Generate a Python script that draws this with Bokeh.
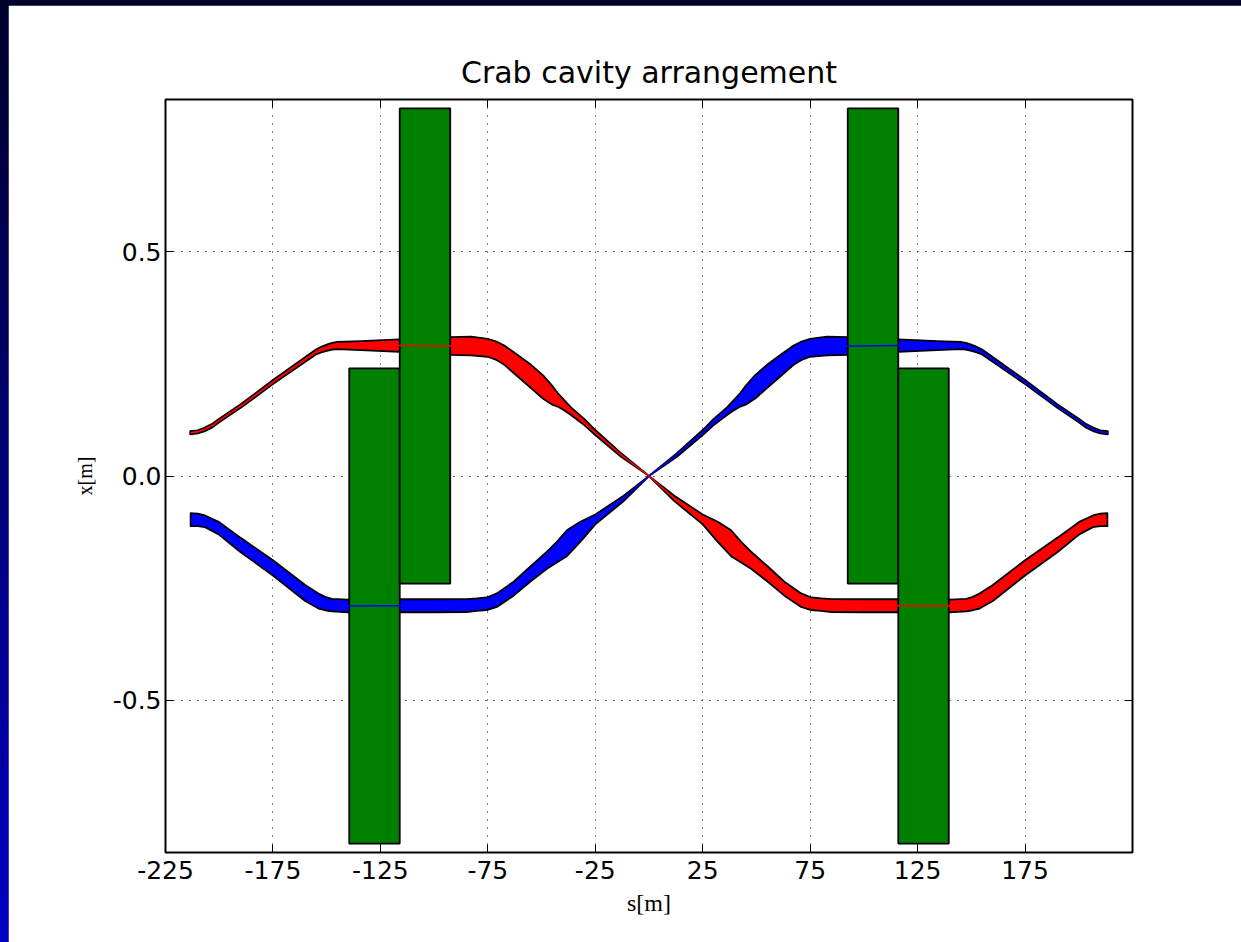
import numpy as np
from bokeh.plotting import figure
from bokeh.models import Range1d, FixedTicker, LinearAxis
from bokeh.embed import file_html
from bokeh.resources import INLINE

# ---- beam 1 (red): longitudinal position, closed orbit, beam half-size ----
s_red = [-213.5, -210, -207, -203, -200, -190, -175, -165, -155, -152.5,
         -150, -147.5, -145, -134, -116, -100, -92.5, -82.8, -75, -71,
         -67.3, -61.1, -54.9, -49.4, -45, -42.5, -39, -36.3, -30, -25,
         -13, 0, 11.8, 25, 32, 38.2, 42.9, 47.5, 55.3, 63,
         70.8, 75.5, 80.1, 85, 100, 116, 140, 147.6, 150.7, 153.8,
         160, 175, 190, 200, 206.6, 210, 213.3]
orbit_red = [0.0965, 0.0985, 0.1035, 0.113, 0.124, 0.156, 0.2095, 0.243, 0.2765, 0.282,
             0.286, 0.2893, 0.291, 0.291, 0.291, 0.290, 0.290, 0.290, 0.286, 0.2795,
             0.2695, 0.246, 0.222, 0.199, 0.180, 0.170, 0.156, 0.1445, 0.120, 0.097,
             0.047, 0.0, -0.050, -0.097, -0.1245, -0.150, -0.170, -0.188, -0.219, -0.2515,
             -0.277, -0.285, -0.287, -0.289, -0.2895, -0.2895, -0.290, -0.288, -0.2845, -0.279,
             -0.261, -0.205, -0.154, -0.117, -0.101, -0.098, -0.0975]
half_red = [0.0035, 0.0035, 0.004, 0.004, 0.004, 0.004, 0.0045, 0.005, 0.0055, 0.0062,
            0.007, 0.0075, 0.008, 0.010, 0.014, 0.018, 0.0198, 0.021, 0.020, 0.0205,
            0.0215, 0.024, 0.026, 0.026, 0.021, 0.015, 0.011, 0.0085, 0.007, 0.0056,
            0.004, 0.0, 0.006, 0.011, 0.0225, 0.029, 0.023, 0.019, 0.017, 0.0155,
            0.015, 0.014, 0.014, 0.0145, 0.0145, 0.0145, 0.014, 0.014, 0.015, 0.0167,
            0.018, 0.017, 0.016, 0.014, 0.013, 0.014, 0.0145]

# ---- beam 2 (blue) ----
s_blue = [-213.3, -210, -206.6, -200, -190, -175, -160, -153.8, -150.7, -147.6,
          -140, -116, -100, -85, -80.1, -75.5, -70.8, -63, -55.3, -47.5,
          -42.9, -38.2, -32, -25, -11.8, 0, 13, 25, 30, 36.3,
          39, 42.5, 45, 49.4, 54.9, 61.1, 67.3, 71, 75, 82.8,
          92.5, 100, 116, 134, 145, 147.5, 150, 152.5, 155, 165,
          175, 190, 200, 203, 207, 210, 213.5]
orbit_blue = [-0.0975, -0.098, -0.101, -0.117, -0.154, -0.205, -0.261, -0.279, -0.2845, -0.288,
              -0.290, -0.2895, -0.2895, -0.289, -0.287, -0.285, -0.277, -0.2515, -0.219, -0.188,
              -0.170, -0.150, -0.1245, -0.097, -0.050, 0.0, 0.047, 0.097, 0.120, 0.1445,
              0.156, 0.170, 0.180, 0.199, 0.222, 0.246, 0.2695, 0.2795, 0.286, 0.290,
              0.290, 0.290, 0.291, 0.291, 0.291, 0.2893, 0.286, 0.282, 0.2765, 0.243,
              0.2095, 0.156, 0.124, 0.113, 0.1035, 0.0985, 0.0965]
half_blue = [0.0145, 0.014, 0.013, 0.014, 0.016, 0.017, 0.018, 0.0167, 0.015, 0.014,
             0.014, 0.0145, 0.0145, 0.0145, 0.014, 0.014, 0.015, 0.0155, 0.017, 0.019,
             0.023, 0.029, 0.0225, 0.011, 0.006, 0.0, 0.004, 0.0056, 0.007, 0.0085,
             0.011, 0.015, 0.021, 0.026, 0.026, 0.024, 0.0215, 0.0205, 0.020, 0.021,
             0.0198, 0.018, 0.014, 0.010, 0.008, 0.0075, 0.007, 0.0062, 0.0055, 0.005,
             0.0045, 0.004, 0.004, 0.004, 0.004, 0.0035, 0.0035]

# ---- crab cavities (green boxes) ----
cav_left = [-139.5, -116.0, 92.5, 116.0]
cav_right = [-116.0, -92.5, 116.0, 139.5]
cav_bottom = [-0.82, -0.24, -0.24, -0.82]
cav_top = [0.24, 0.82, 0.82, 0.24]

# ---- ticks ----
xticks = [-225, -175, -125, -75, -25, 25, 75, 125, 175]
xtick_labels = ["-225", "-175", "-125", "-75", "-25", "25", "75", "125", "175"]
yticks = [-0.5, 0.0, 0.5]
ytick_labels = ["-0.5", "0.0", "0.5"]

p = figure(width=1233, height=937,
           x_range=Range1d(-225, 225), y_range=Range1d(-0.84, 0.84),
           output_backend="svg", toolbar_location=None,
           min_border_left=157, min_border_right=109,
           min_border_top=94, min_border_bottom=90)
p.background_fill_color = "white"
p.border_fill_color = "white"
p.outline_line_color = "black"
p.outline_line_width = 2

# beam envelopes
for s_, c_, h_, col in ((s_blue, orbit_blue, half_blue, "#0000ff"),
                        (s_red, orbit_red, half_red, "#ff0000")):
    sa = np.array(s_, dtype=float)
    ca = np.array(c_, dtype=float)
    ha = np.array(h_, dtype=float)
    xs = np.concatenate([sa, sa[::-1]])
    ys = np.concatenate([ca + ha, (ca - ha)[::-1]])
    p.patch(xs, ys, fill_color=col, line_color="black", line_width=1.8,
            line_join="round")

# cavities
p.quad(left=cav_left, right=cav_right, bottom=cav_bottom, top=cav_top,
       fill_color="#008000", line_color="black", line_width=1.8)

# closed orbits
p.line(s_blue, orbit_blue, line_color="#0000ff", line_width=1.5)
p.line(s_red, orbit_red, line_color="#ff0000", line_width=1.5)

# title
p.title.text = "Crab cavity arrangement"
p.title.align = "center"
p.title.text_font = "DejaVu Sans"
p.title.text_font_size = "30px"
p.title.text_font_style = "normal"
p.title.text_color = "black"
p.title.standoff = 20

# extra axes (ticks only) on top/right
p.add_layout(LinearAxis(), "above")
p.add_layout(LinearAxis(), "right")

for ax in list(p.xaxis) + list(p.yaxis):
    ax.axis_line_color = None
    ax.major_tick_in = 8
    ax.major_tick_out = 0
    ax.major_tick_line_color = "black"
    ax.major_tick_line_width = 1
    ax.minor_tick_line_color = None
    ax.major_label_text_font = "DejaVu Sans"
    ax.major_label_text_font_size = "25px"
    ax.major_label_text_color = "black"

for ax in p.xaxis:
    ax.ticker = FixedTicker(ticks=xticks)
    ax.major_label_overrides = {t: l for t, l in zip(xticks, xtick_labels)}
for ax in p.yaxis:
    ax.ticker = FixedTicker(ticks=yticks)
    ax.major_label_overrides = {t: l for t, l in zip(yticks, ytick_labels)}

for ax in (p.above[0], p.right[0]):
    ax.major_label_text_color = None
    ax.major_label_text_font_size = "1px"
    ax.major_label_standoff = 0

xb = p.below[0]
xb.major_label_standoff = 8
xb.axis_label = "s[m]"
xb.axis_label_text_font = "Liberation Serif"
xb.axis_label_text_font_style = "normal"
xb.axis_label_text_font_size = "24px"
xb.axis_label_text_color = "black"
xb.axis_label_standoff = 8

yl = p.left[0]
yl.major_label_standoff = 4
yl.axis_label = "x[m]"
yl.axis_label_text_font = "Liberation Serif"
yl.axis_label_text_font_style = "normal"
yl.axis_label_text_font_size = "20px"
yl.axis_label_text_color = "black"
yl.axis_label_standoff = 14

# grid
p.xgrid.ticker = FixedTicker(ticks=xticks)
p.ygrid.ticker = FixedTicker(ticks=yticks)
for g in (p.xgrid, p.ygrid):
    g.grid_line_color = "black"
    g.grid_line_alpha = 1.0
    g.grid_line_width = 1.1
    g.grid_line_dash = "1 7"

html = file_html(p, INLINE, title="Crab cavity arrangement")
style = ("<style>html{background:linear-gradient(to bottom,#00002a,#0000c4);"
         "overflow:hidden;min-height:100%;}"
         "body{margin:5px 0 0 8px;overflow:hidden;background:transparent;}</style>")
html = html.replace("</head>", style + "</head>", 1)
open("out.html", "w").write(html)
